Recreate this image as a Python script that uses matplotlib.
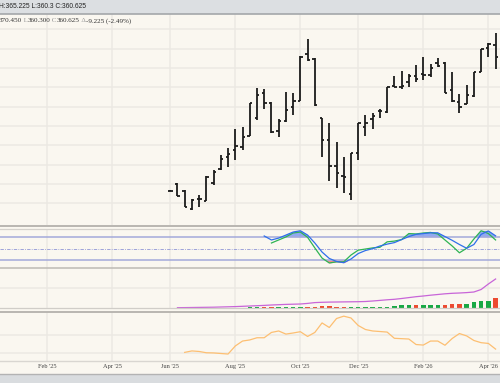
import matplotlib
matplotlib.use("Agg")
import matplotlib.pyplot as plt
from matplotlib.lines import Line2D
import numpy as np

W, H = 500, 383

# weekly bars, week 0 = first week of Feb '25
weeks = np.arange(17, 63)
opens = [333.2, 335.0, 333.2, 328.5, 331.0, 330.7, 335.2, 338.8, 342.0, 343.8, 344.5, 347.4,
         352.0, 358.4, 356.0, 348.7, 351.4, 354.8, 356.4, 368.6, 367.2, 352.0, 346.4, 339.6,
         337.1, 332.4, 343.1, 349.8, 351.7, 353.9, 353.7, 360.3, 360.2, 361.4, 362.9, 363.4,
         363.2, 366.2, 366.4, 359.2, 356.3, 355.7, 357.7, 364.0, 370.1, 370.9]
highs = [333.4, 335.2, 333.3, 331.0, 332.2, 337.1, 338.6, 342.6, 344.2, 349.2, 349.8, 356.0,
         359.7, 359.5, 356.3, 351.7, 358.9, 358.4, 368.1, 372.4, 367.5, 352.0, 350.8, 345.9,
         342.0, 343.1, 350.8, 352.8, 353.3, 354.3, 360.0, 362.9, 364.3, 363.4, 365.8, 367.8,
         366.0, 367.7, 366.5, 363.9, 358.3, 360.6, 364.0, 369.8, 371.5, 374.0]
lows = [333.1, 331.8, 329.0, 328.2, 329.1, 330.6, 334.7, 338.6, 339.5, 341.2, 343.8, 347.4,
        351.5, 354.3, 348.2, 347.1, 351.1, 352.8, 356.4, 366.9, 355.1, 341.9, 335.8, 333.9,
        332.6, 330.8, 341.2, 347.4, 349.3, 352.0, 353.4, 360.0, 359.5, 360.2, 361.4, 361.9,
        362.6, 365.3, 358.4, 356.3, 353.4, 355.7, 357.6, 364.0, 367.8, 364.7]
closes = [333.2, 331.9, 329.1, 330.8, 331.0, 336.8, 338.2, 341.5, 342.7, 344.8, 347.1, 355.9,
          358.0, 356.0, 348.5, 351.3, 354.1, 356.5, 367.9, 367.1, 355.4, 346.4, 339.6, 337.7,
          336.8, 342.9, 350.7, 350.8, 352.6, 353.9, 360.0, 360.1, 360.3, 362.9, 362.1, 363.2,
          364.9, 365.5, 358.6, 356.5, 354.8, 358.0, 364.0, 369.8, 371.2, 367.9]

# stochastics
d_weeks = np.arange(30, 63)
stoch_d = [83.6, 73, 78, 86, 94, 97.6, 86, 65, 41, 24, 16, 12.7, 22.5, 37, 45, 50, 57, 62, 66,
           74, 82, 88, 90, 92, 92, 82, 72, 61, 51, 61, 88, 97, 84]
k_weeks = np.arange(31, 63)
stoch_k = [65, 73, 81, 91.5, 94, 80, 52, 25, 12, 15, 15, 33, 46, 49, 52, 53.6, 68, 70, 74, 90,
           89, 91.5, 93, 89, 73, 57, 39, 51, 75.6, 97.6, 90, 73]

# volume and open interest
volume = [1] * 11 + [3, 3, 3, 4, 4, 4, 4, 4, 5, 5, 8.5, 8.5, 6, 5, 5, 5, 5, 5, 5, 6, 8.5, 12,
                     12, 12, 13.5, 12, 13.5, 15, 18.5, 20, 17, 30, 33, 33, 50]
oi_weeks = np.arange(18, 63)
open_interest = [103, 104, 105, 106, 107, 108, 110, 112, 114, 117, 120, 123, 126, 130, 133, 136,
                 138, 140, 146, 154, 157, 159, 160, 161, 162, 163, 165, 170, 176, 182, 187, 195,
                 204, 213, 220, 228, 235, 242, 247, 250, 254, 260, 285, 340, 390]

# lower study
hv_weeks = np.arange(19, 63)
hv = [10.5, 11.3, 11.0, 10.3, 10.2, 9.9, 9.6, 14.0, 16.7, 17.3, 18.5, 18.5, 21.4, 22.2, 20.5,
      21.1, 21.8, 19.2, 21.4, 26.6, 24.1, 29.0, 30.3, 29.3, 25.2, 23.0, 22.2, 21.9, 21.6, 18.2,
      18.0, 17.8, 14.8, 14.5, 16.7, 16.7, 14.4, 18.1, 20.8, 19.5, 17.0, 15.8, 15.4, 12.3]

tick_weeks = [0, 9, 17, 26, 35, 43, 52, 61]
tick_labels = ["Feb '25", "Apr '25", "Jun '25", "Aug '25", "Oct '25", "Dec '25", "Feb '26", "Apr '26"]

bg = "#faf7f0"
grid_c = "#ece9e3"
xlim = (-6.54, 62.61)

fig = plt.figure(figsize=(W / 100, H / 100), dpi=100, facecolor=bg)


def panel(top, bottom, face=bg):
    ax = fig.add_axes([0, 1 - bottom / H, 1, (bottom - top) / H], facecolor=face)
    for s in ax.spines.values():
        s.set_visible(False)
    ax.set_xlim(*xlim)
    ax.set_xticks(tick_weeks)
    ax.tick_params(length=0, labelbottom=False, labelleft=False)
    ax.grid(True, axis="x", color=grid_c, lw=1.1)
    ax.set_axisbelow(True)
    return ax


def hline(y, color, lw):
    fig.add_artist(Line2D([0, 1], [1 - y / H, 1 - y / H], color=color, lw=lw,
                          transform=fig.transFigure))


# header bar
ax_h = fig.add_axes([0, 1 - 14 / H, 1, 14 / H])
ax_h.set_axis_off()
ax_h.add_patch(plt.Rectangle((0, 0), 1, 1, color="#dcdfe2", transform=ax_h.transAxes))
hline(14, "#a4a7aa", 1.2)
fig.text(-1 / W, 1 - 6.5 / H, "H:365.225 L:360.3 C:360.625", fontsize=4.8,
         family="Liberation Sans", color="#222222", va="center", ha="left")

# price panel
ax = panel(14, 226)
ax.set_ylim(324.11, 378.96)
ax.set_yticks(np.arange(330, 376, 5))
ax.grid(True, axis="y", color=grid_c, lw=1.1)
wk = weeks
ax.vlines(wk, lows, highs, color="#1c1c1c", lw=1.3)
ax.hlines(opens, wk - 0.33, wk, color="#1c1c1c", lw=1.3)
ax.hlines(closes, wk, wk + 0.33, color="#1c1c1c", lw=1.3)

# info line with grey letters
r = fig.canvas.get_renderer()
xpos = -1.5
parts = [("370.450", "#333333"), (" L", "#9a9a9a"), ("360.300", "#333333"), (" C", "#9a9a9a"),
         ("360.625", "#333333"), (" \u0394", "#9a9a9a"), ("-9.225 (-2.49%)", "#333333")]
for s, c in parts:
    t = fig.text(xpos / W, 1 - 20.7 / H, s, fontsize=5.1, family="Liberation Serif",
                 color=c, va="center", ha="left")
    xpos += t.get_window_extent(renderer=r).width

hline(226, "#b9b6b1", 1.4)
hline(228.7, "#d4d1cc", 0.9)

# stochastic panel
ax_s = panel(229, 267.7)
ax_s.set_ylim(-0.53, 102.1)
ax_s.axhline(80, color="#a3a9da", lw=1.1)
ax_s.axhline(20, color="#a3a9da", lw=1.1)
ax_s.axhline(50, color="#8f95d6", lw=0.6, ls=(0, (4, 1.5, 1, 1.5)))
k = np.array(stoch_k)
d_on_k = np.array(stoch_d[1:])
top = np.maximum(k, d_on_k)
bot = np.minimum(k, d_on_k)
ax_s.fill_between(k_weeks, 80, top, where=top > 80, interpolate=True, color="#6f8ef2", alpha=0.75, lw=0)
ax_s.fill_between(k_weeks, 20, bot, where=bot < 20, interpolate=True, color="#f26a6a", alpha=0.75, lw=0)
ax_s.plot(k_weeks, stoch_k, color="#2fb453", lw=0.9)
ax_s.plot(d_weeks, stoch_d, color="#2f6fea", lw=0.9)

hline(267.7, "#bdbab5", 1.1)

# volume / open interest panel
ax_v = panel(268, 308)
ax_v.set_ylim(-1.5, 198.5)
ax_v.set_yticks([100])
ax_v.grid(True, axis="y", color=grid_c, lw=1.1)
prev = np.array([closes[0]] + closes[:-1])
vcol = np.where(np.array(closes) >= prev, "#18a844", "#ec4a30")
ax_v.bar(weeks, volume, width=0.62, color=vcol, lw=0)
ax_oi = ax_v.twinx()
ax_oi.set_ylim(100, 500)
ax_oi.set_axis_off()
ax_oi.plot(oi_weeks, open_interest, color="#c865d8", lw=0.9)

hline(308.3, "#d0cdc8", 0.9)
hline(311.7, "#b4b1ac", 1.3)

# lower panel
ax_b = panel(311.7, 360.7)
ax_b.set_ylim(5.96, 32.73)
ax_b.set_yticks([10, 20])
ax_b.grid(True, axis="y", color=grid_c, lw=1.1)
ax_b.plot(hv_weeks, hv, color="#fdbf72", lw=0.9)
ax_b.set_xticklabels(tick_labels)
ax_b.tick_params(labelbottom=True, pad=2.2, labelsize=4.6, labelcolor="#444444")
for lab in ax_b.get_xticklabels():
    lab.set_family("Liberation Serif")

hline(360.7, "#d9d6d1", 1.0)

# bottom bar
ax_f = fig.add_axes([0, 0, 1, 9 / H])
ax_f.set_axis_off()
ax_f.add_patch(plt.Rectangle((0, 0), 1, 1, color="#d9dcdf", transform=ax_f.transAxes))
hline(374, "#b3b3b3", 1.0)

fig.savefig("out.png", dpi=100, facecolor=bg)
